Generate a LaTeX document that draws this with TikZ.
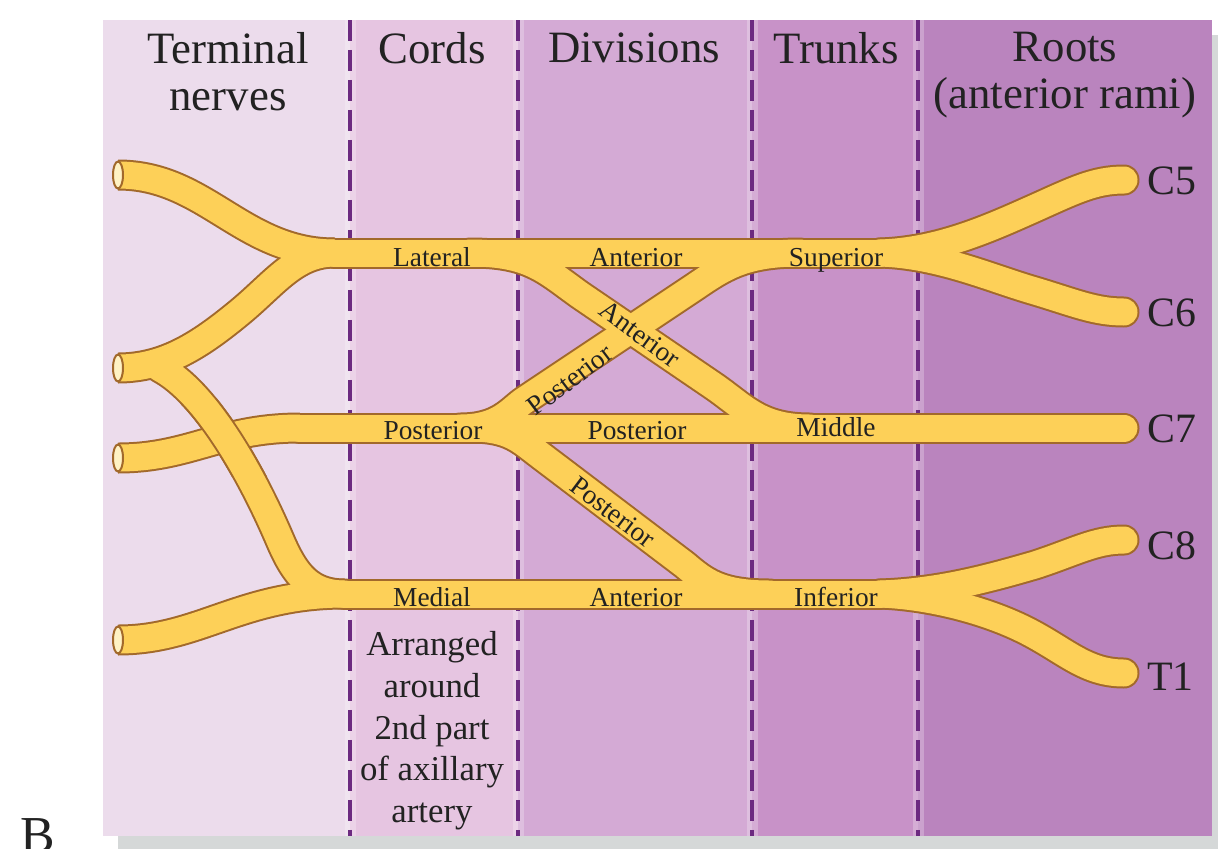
\documentclass[tikz,border=0pt]{standalone}
\usepackage{fontspec}
\setmainfont{Liberation Serif}
\usetikzlibrary{positioning}

\definecolor{termcol}{HTML}{ECDCEC}
\definecolor{cordcol}{HTML}{E6C5E1}
\definecolor{divcol}{HTML}{D4AAD5}
\definecolor{trunkcol}{HTML}{C892C8}
\definecolor{rootcol}{HTML}{BA84BE}
\definecolor{nerveyellow}{HTML}{FDD058}
\definecolor{nervebrown}{HTML}{A2692B}
\definecolor{tubelight}{HTML}{FFF2C4}
\definecolor{dashpurple}{HTML}{6C2A80}
\definecolor{shadowgray}{HTML}{D5D8D8}
\definecolor{textgray}{HTML}{222222}

% medial root of the median nerve (drawn twice: once merged, once on top of the radial)
\newcommand{\medialroot}{(160,368) .. controls (205,392) and (250,470) .. (280,540) .. controls (295,575) and (310,594) .. (med)}

% all nerve paths, drawn with the style given
\newcommand{\plexus}[1]{%
  % terminal nerves
  \draw[#1, line cap=butt] (musc) .. controls (206,175) and (242,253) .. (lat);
  \draw[#1, line cap=butt] (median) .. controls (165,368) and (200,345) .. (240,312) .. controls (275,283) and (295,253) .. (lat);
  \draw[#1, line cap=butt] (radial) .. controls (190,458) and (220,428) .. (post);
  \draw[#1] \medialroot;
  \draw[#1, line cap=butt] (ulnar) .. controls (200,640) and (240,594) .. (med);
  % cords and trunks
  \draw[#1] (lat) -- (sup);
  \draw[#1] (post) -- (C7);
  \draw[#1] (med) -- (inf);
  % divisions
  \draw[#1] (470,253) .. controls (530,253) and (545,270) .. (580,295) -- (715,387) .. controls (745,408) and (760,428) .. (810,428);
  \draw[#1] (460,428) .. controls (500,428) and (510,410) .. (525,400) -- (690,290) .. controls (720,270) and (740,253) .. (800,253);
  \draw[#1] (470,428) .. controls (510,428) and (520,440) .. (540,455) -- (685,565) .. controls (705,582) and (720,594) .. (770,594);
  % roots
  \draw[#1] (sup) .. controls (940,251) and (990,228) .. (1035,208) .. controls (1075,190) and (1095,180) .. (C5);
  \draw[#1] (sup) .. controls (940,255) and (990,278) .. (1035,291) .. controls (1075,303) and (1095,312) .. (C6);
  \draw[#1] (inf) .. controls (940,592) and (990,578) .. (1035,565) .. controls (1075,552) and (1095,540) .. (C8);
  \draw[#1] (inf) .. controls (930,596) and (985,610) .. (1025,630) .. controls (1065,650) and (1085,673) .. (T1);
}

\begin{document}
\begin{tikzpicture}[
    x=0.02cm, y=-0.02cm,
    nerveout/.style={draw=nervebrown, line width=0.62cm, line cap=round},
    nervein/.style={draw=nerveyellow, line width=0.54cm, line cap=round},
    divider/.style={draw=dashpurple, line width=0.09cm, dash pattern=on 0.42cm off 0.18cm},
    halo/.style={draw=white, opacity=0.25, line width=0.22cm},
    header/.style={font=\fontsize{25.5}{26.6}\selectfont, align=center, anchor=north, inner sep=0pt, text=textgray},
    nervelabel/.style={font=\fontsize{15.6}{18}\selectfont, inner sep=0pt, text=textgray},
    rootlabel/.style={font=\fontsize{23.8}{26}\selectfont, anchor=west, inner sep=0pt, text=textgray},
    tubeend/.style={draw=nervebrown, fill=tubelight, line width=0.04cm}
  ]
  \useasboundingbox (0,0) rectangle (1218,849);

  % Shadow and column panels
  \fill[shadowgray] (118,35) rectangle (1218,849);
  \foreach \xa/\xb/\col in {103/350/termcol, 350/518/cordcol, 518/752/divcol, 752/918/trunkcol, 918/1212/rootcol}
    \fill[\col] (\xa,20) rectangle (\xb,836);

  % Dashed column borders
  \foreach \xd in {350,518,752,918} {
    \draw[halo] (\xd,20) -- (\xd,836);
    \draw[divider] (\xd,20) -- (\xd,836);
  }

  % Column headers
  \node[header] (hterm) at (228,32) {Terminal\\nerves};
  \node[header] (hcord) at (432,32) {Cords};
  \node[header] (hdiv) at (634,32) {Divisions};
  \node[header] (htrunk) at (836,32) {Trunks};
  \node[header] (hroot) at (1065,32) {Roots\\(anterior rami)};

  % Nerve end points and junctions
  \coordinate (musc) at (118,175);
  \coordinate (median) at (118,368);
  \coordinate (radial) at (118,458);
  \coordinate (ulnar) at (118,640);
  \coordinate (lat) at (335,253);
  \coordinate (post) at (300,428);
  \coordinate (med) at (345,594);
  \coordinate (sup) at (880,253);
  \coordinate (inf) at (880,594);
  \coordinate (C5) at (1124,180);
  \coordinate (C6) at (1124,312);
  \coordinate (C7) at (1124,428);
  \coordinate (C8) at (1124,540);
  \coordinate (T1) at (1124,673);

  % Nerves: outlines first, then fill, so the branches merge
  \plexus{nerveout}
  \plexus{nervein}

  % medial root passes over the radial nerve
  \begin{scope}
    \clip (180,398) rectangle (300,476);
    \draw[nerveout] \medialroot;
    \draw[nervein] \medialroot;
  \end{scope}

  % Cut ends of the terminal nerves
  \foreach \t in {musc,median,radial,ulnar}
    \draw[tubeend] (\t) ellipse [x radius=0.1cm, y radius=0.27cm];

  % Labels on the nerves
  \node[nervelabel, anchor=base] (llat) at (432,266) {Lateral};
  \node[nervelabel, anchor=base] (lant1) at (636,266) {Anterior};
  \node[nervelabel, anchor=base] (lsup) at (836,266) {Superior};
  \node[nervelabel, anchor=base] (lpost) at (433,439) {Posterior};
  \node[nervelabel, anchor=base] (lpost2) at (637,439) {Posterior};
  \node[nervelabel, anchor=base] (lmid) at (836,436) {Middle};
  \node[nervelabel, anchor=base] (lmed) at (432,606) {Medial};
  \node[nervelabel, anchor=base] (lant3) at (636,606) {Anterior};
  \node[nervelabel, anchor=base] (linf) at (836,606) {Inferior};
  \node[nervelabel, rotate=-36] (lant2) at (640,334) {Anterior};
  \node[nervelabel, rotate=37] (lpost3) at (570,380) {Posterior};
  \node[nervelabel, rotate=-37] (lpost4) at (613,512) {Posterior};

  % Root labels
  \node[rootlabel] (tC5) at (1147,181) {C5};
  \node[rootlabel] (tC6) at (1147,313) {C6};
  \node[rootlabel] (tC7) at (1147,429) {C7};
  \node[rootlabel] (tC8) at (1147,546) {C8};
  \node[rootlabel] (tT1) at (1147,677) {T1};

  % Note under the cords
  \node[header, font=\fontsize{19.8}{23.8}\selectfont] (note) at (432,631) {Arranged\\around\\2nd part\\of axillary\\artery};

  % Panel letter
  \node[font=\fontsize{29.5}{30}\selectfont, anchor=base west, inner sep=0pt, text=textgray] (letter) at (20,852) {B};
\end{tikzpicture}
\end{document}
